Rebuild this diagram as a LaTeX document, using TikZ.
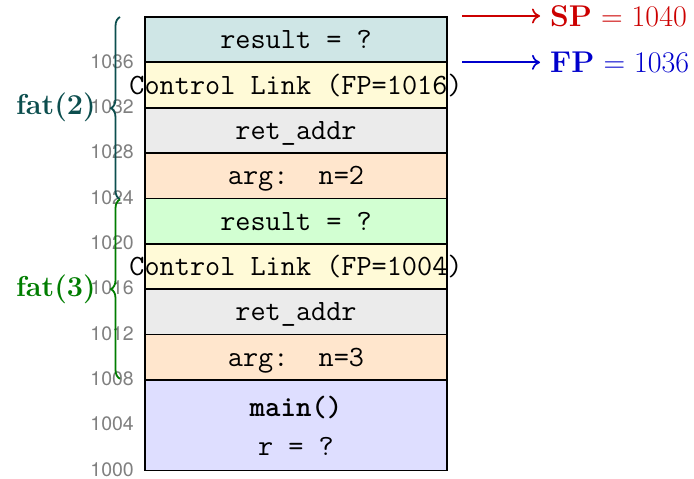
\documentclass[tikz,border=0pt]{standalone}
\usepackage{fontspec}
\usetikzlibrary{decorations.pathreplacing,arrows.meta}
\newfontfamily\addrfont{TeX Gyre Heros}
\definecolor{cres}{RGB}{207,230,230}
\definecolor{cres2}{RGB}{210,255,210}
\definecolor{ccl}{RGB}{255,250,215}
\definecolor{cret}{RGB}{235,235,235}
\definecolor{carg}{RGB}{255,230,205}
\definecolor{cmain}{RGB}{222,222,255}
\definecolor{fattwo}{RGB}{12,78,78}
\definecolor{fatthree}{RGB}{0,125,0}
\definecolor{spred}{RGB}{204,0,0}
\definecolor{fpblue}{RGB}{0,0,204}
\begin{document}
\begin{tikzpicture}[x=1pt,y=1pt,
  cell/.style={draw=black, line width=1.7pt, minimum width=302pt, minimum height=45.35pt, inner sep=0pt, outer sep=0pt, anchor=south west},
  mono/.style={font=\fontsize{29.4}{34}\selectfont\ttfamily, anchor=base, inner sep=0pt},
  addr/.style={font=\fontsize{19.5}{22}\selectfont\addrfont, text=gray, anchor=east, inner sep=0pt},
  fatlabel/.style={font=\fontsize{28.8}{34}\selectfont\bfseries, anchor=east, inner sep=0pt},
  ptr/.style={font=\fontsize{30}{36}\selectfont, anchor=west, inner sep=0pt},
  bracestyle/.style={decorate, decoration={brace, amplitude=9pt}, line width=1.8pt},
  ptrarrow/.style={-{To[length=8pt,width=15pt]}, line width=1.7pt}
]
\useasboundingbox (0,0) rectangle (694,479);
% cells
\node[cell, fill=cmain, minimum height=90.7pt] (main) at (145,8.5) {};
\node[cell, fill=carg]  (arg3) at (145,{8.5+45.35*2}) {};
\node[cell, fill=cret]  (ret3) at (145,{8.5+45.35*3}) {};
\node[cell, fill=ccl]   (cl3)  at (145,{8.5+45.35*4}) {};
\node[cell, fill=cres2] (res3) at (145,{8.5+45.35*5}) {};
\node[cell, fill=carg]  (arg2) at (145,{8.5+45.35*6}) {};
\node[cell, fill=cret]  (ret2) at (145,{8.5+45.35*7}) {};
\node[cell, fill=ccl]   (cl2)  at (145,{8.5+45.35*8}) {};
\node[cell, fill=cres]  (res2) at (145,{8.5+45.35*9}) {};
% cell texts
\node[mono] (tres2) at ([yshift=-9pt]res2.center) {result = ?};
\node[mono] (tcl2)  at ([yshift=-9pt]cl2.center) {Control Link (FP=1016)};
\node[mono] (tret2) at ([yshift=-9pt]ret2.center) {ret\_addr};
\node[mono] (targ2) at ([yshift=-9pt]arg2.center) {arg:\ \ n=2};
\node[mono] (tres3) at ([yshift=-9pt]res3.center) {result = ?};
\node[mono] (tcl3)  at ([yshift=-9pt]cl3.center) {Control Link (FP=1004)};
\node[mono] (tret3) at ([yshift=-9pt]ret3.center) {ret\_addr};
\node[mono] (targ3) at ([yshift=-9pt]arg3.center) {arg:\ \ n=3};
\node[mono] (tmain) at ([yshift=9pt]main.center) {\bfseries main()};
\node[mono] (tr)    at ([yshift=-30pt]main.center) {r = ?};
% addresses
\foreach \k/\a in {0/1000,1/1004,2/1008,3/1012,4/1016,5/1020,6/1024,7/1028,8/1032,9/1036}
  \node[addr] (addr\a) at (134,{9.5+45.35*\k}) {\a};
% braces
\coordinate (b2top) at (120,{8.5+45.35*10});
\coordinate (b2bot) at (120,{8.5+45.35*6-1});
\coordinate (b3top) at (120,{8.5+45.35*6-1});
\coordinate (b3bot) at (120,{8.5+45.35*2+1});
\draw[bracestyle, fattwo] (b2bot) -- (b2top);
\draw[bracestyle, fatthree] (b3bot) -- (b3top);
\node[fatlabel, text=fattwo] (fat2) at (96,{8.5+45.35*8}) {fat(2)};
\node[fatlabel, text=fatthree] (fat3) at (96,{8.5+45.35*4}) {fat(3)};
% pointers
\node[ptr, text=spred] (sp) at (550,{8.5+45.35*10+1}) {\textbf{SP} = 1040};
\node[ptr, text=fpblue] (fp) at (550,{8.5+45.35*9}) {\textbf{FP} = 1036};
\coordinate (spstart) at (462,{8.5+45.35*10+1});
\coordinate (fpstart) at (462,{8.5+45.35*9});
\draw[ptrarrow, spred] (spstart) -- ([xshift=-10pt]sp.west);
\draw[ptrarrow, fpblue] (fpstart) -- ([xshift=-10pt]fp.west);
\end{tikzpicture}
\end{document}
